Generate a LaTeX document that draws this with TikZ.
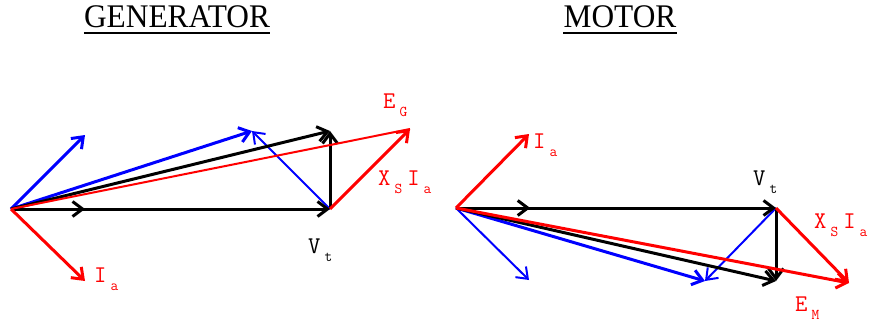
\documentclass[tikz,border=0pt]{standalone}
\usepackage{fontspec}
\usepackage{xcolor}
\usepackage{tikz}
\usetikzlibrary{arrows.meta,decorations.markings}
\newfontfamily\titlefont[FakeStretch=0.95]{Liberation Serif}
\newcommand{\vsub}[2]{#1\kern4pt\raisebox{-8pt}{\fontsize{15}{15}\selectfont #2}\kern5pt}
\definecolor{vred}{rgb}{1,0,0}
\definecolor{vblue}{rgb}{0,0,1}

\begin{document}
\begin{tikzpicture}[x=1pt, y=-1pt,
      tip/.style={-{Straight Barb[length=10pt,width=15pt]}},
      thk/.style={tip, line width=3pt},
      thn/.style={tip, line width=2pt},
      mid/.style={decoration={markings,
                  mark=at position 0.232 with {\arrow{Straight Barb[length=10pt,width=15pt]}}},
                  postaction={decorate}},
      lbl/.style={anchor=base west, inner sep=0pt,
                  font=\ttfamily\fontsize{24}{26}\selectfont},
      ttl/.style={anchor=base, inner sep=0pt,
                  font=\titlefont\fontsize{33}{36}\selectfont}
  ]
    \useasboundingbox (0,0) rectangle (875,321);

    % titles
    \node[ttl] (gtitle) at (177,28) {GENERATOR};
    \node[ttl] (mtitle) at (620,28) {MOTOR};
    \draw[line width=2pt] ([yshift=-5pt]gtitle.base west) -- ([yshift=-5pt]gtitle.base east);
    \draw[line width=2pt] ([yshift=-5pt]mtitle.base west) -- ([yshift=-5pt]mtitle.base east);

    % generator
    \coordinate (gO) at (11,209);
    \coordinate (gV) at (330,209);
    \coordinate (gA) at (330,131);
    \coordinate (gB) at (252,131);
    \coordinate (gE) at (410,129);
    \coordinate (gI) at (85,281);
    \coordinate (gQ) at (85,135);
    \draw[thk, vblue] (gO) -- (gQ);
    \draw[thk, vblue] (gO) -- (gB);
    \draw[thn, vblue] (gV) -- (gB);
    \draw[thk, mid] (gO) -- (gV);
    \draw[thk] (gV) -- (gA);
    \draw[thk] (gO) -- (gA);
    \draw[line width=2pt, vred] (gO) -- (gE);
    \draw[thk, vred] (gV) -- (gE);
    \draw[thk, vred] (gO) -- (gI);
    \node[lbl, vred] (gEl) at (383,108) {\vsub{E}{G}};
    \node[lbl, vred] (gXl) at (378,185) {\vsub{X}{S}\vsub{I}{a}};
    \node[lbl] (gVl) at (308,253) {\vsub{V}{t}};
    \node[lbl, vred] (gIl) at (94,282) {\vsub{I}{a}};

    % motor
    \coordinate (mO) at (456,208);
    \coordinate (mV) at (776,208);
    \coordinate (mA) at (776,281);
    \coordinate (mB) at (705,281);
    \coordinate (mE) at (849,283);
    \coordinate (mI) at (529,134);
    \coordinate (mQ) at (529,280);
    \draw[thn, vblue] (mO) -- (mQ);
    \draw[thk, vblue] (mO) -- (mB);
    \draw[thn, vblue] (mV) -- (mB);
    \draw[thk, mid] (mO) -- (mV);
    \draw[thk] (mV) -- (mA);
    \draw[thk] (mO) -- (mA);
    \draw[thk, vred] (mO) -- (mE);
    \draw[thk, vred] (mV) -- (mE);
    \draw[thk, vred] (mO) -- (mI);
    \node[lbl, vred] (mIl) at (533,148) {\vsub{I}{a}};
    \node[lbl] (mVl) at (753,185) {\vsub{V}{t}};
    \node[lbl, vred] (mXl) at (814,228) {\vsub{X}{S}\vsub{I}{a}};
    \node[lbl, vred] (mEl) at (795,311) {\vsub{E}{M}};
  \end{tikzpicture}
\end{document}
